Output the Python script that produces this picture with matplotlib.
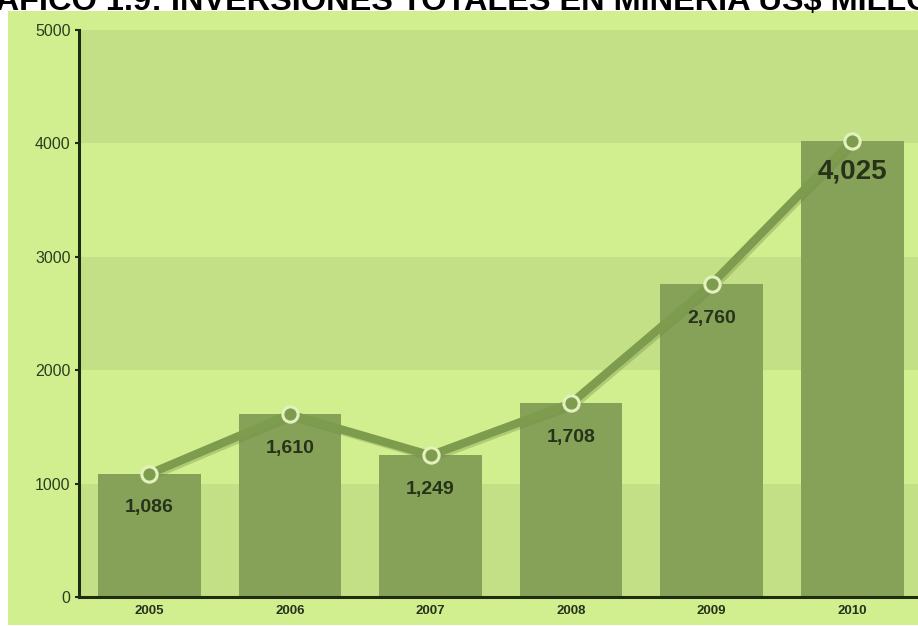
import matplotlib
matplotlib.use("Agg")
import matplotlib.pyplot as plt
from matplotlib.patches import Rectangle
import matplotlib.patheffects as pe

years = ['2005', '2006', '2007', '2008', '2009', '2010']
inversion = [1086, 1610, 1249, 1708, 2760, 4025]
etiquetas = ['1,086', '1,610', '1,249', '1,708', '2,760', '4,025']
yticks = [0, 1000, 2000, 3000, 4000, 5000]

fondo = '#d2ef8f'
banda = '#c4e086'
barra = '#86a258'
linea = '#7d9c4d'
oscuro = '#1f2b12'

plt.rcParams['font.family'] = ['Liberation Sans', 'DejaVu Sans']

fig = plt.figure(figsize=(9.18, 6.26), dpi=100)
fig.patch.set_facecolor('white')

# fondo verde del grafico
fig.patches.append(Rectangle((8/918, 1/626), 910/918, 614/626, transform=fig.transFigure,
                             facecolor=fondo, edgecolor='none', zorder=-10))

fig.text(-53/918, 1 - 10/626, 'GRÁFICO 1.9: INVERSIONES TOTALES EN MINERÍA US$ MILLONES',
         fontsize=23.4, fontweight='bold', color='black', ha='left', va='baseline')

ax = fig.add_axes([79/918, 1 - 597/626, 843.6/918, 567/626])
ax.set_facecolor('none')

for y0 in [0, 2000, 4000]:
    ax.axhspan(y0, y0 + 1000, color=banda, lw=0, zorder=0)

x = list(range(len(years)))
ax.bar(x, inversion, width=0.73, color=barra, zorder=2)

ax.plot(x, inversion, color=linea, lw=6, zorder=3, solid_capstyle='round',
        path_effects=[pe.SimpleLineShadow(offset=(1.5, -1.5), shadow_color='#6f8a45', alpha=0.35), pe.Normal()])
ax.plot(x, inversion, 'o', ms=11, color=linea, mec='#e3f1bf', mew=2.2, zorder=4)

for i, v in enumerate(inversion):
    if i == len(inversion) - 1:
        ax.annotate(etiquetas[i], (i, v), xytext=(0, -22), textcoords='offset points',
                    ha='center', va='center', fontsize=20, fontweight='bold', color='#26321a', zorder=5)
    else:
        ax.annotate(etiquetas[i], (i, v), xytext=(0, -24.5), textcoords='offset points',
                    ha='center', va='center', fontsize=14, fontweight='bold', color='#26321a', zorder=5)

ax.set_xlim(-0.5, 5.5)
ax.set_ylim(0, 5000)
ax.set_xticks(x)
ax.set_xticklabels(years, fontsize=9.5, fontweight='bold', color='#26321a')
ax.set_yticks(yticks)
ax.set_yticklabels([str(t) for t in yticks], fontsize=11.5, color='#2e3d20')
ax.tick_params(axis='x', length=0, pad=6)
ax.tick_params(axis='y', length=3, width=1.5, color=oscuro, pad=3)

for s in ['top', 'right']:
    ax.spines[s].set_visible(False)
for s in ['left', 'bottom']:
    ax.spines[s].set_color(oscuro)
    ax.spines[s].set_linewidth(2.2)
    ax.spines[s].set_zorder(6)

fig.savefig('out.png', dpi=100)
